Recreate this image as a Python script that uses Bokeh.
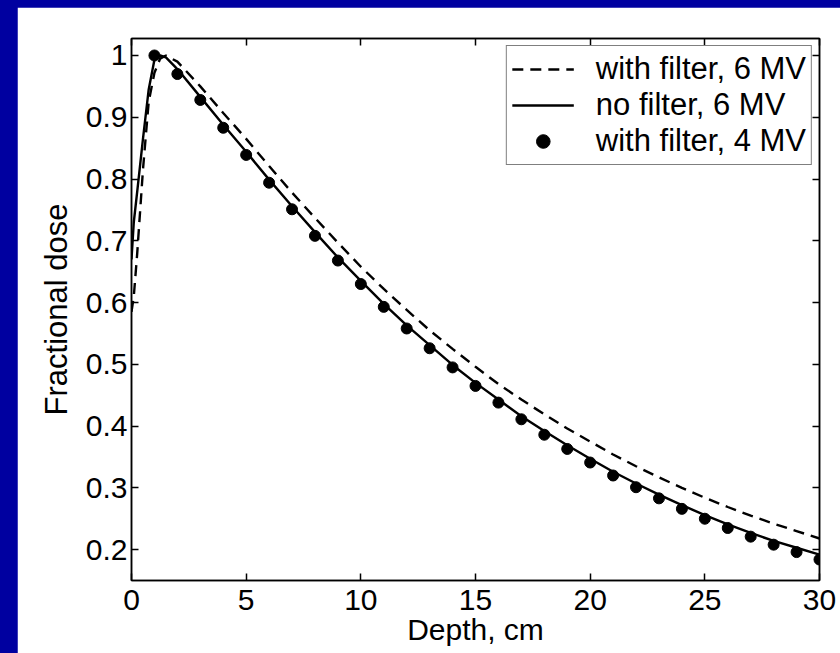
from bokeh.plotting import figure
from bokeh.models import (Range1d, LinearAxis, FixedTicker, Legend, LegendItem,
                          CustomLabelingPolicy)
from bokeh.layouts import column
from bokeh.embed import file_html
from bokeh.resources import INLINE

# ---- data ----
depth_nofilter_6mv = [0, 0.1, 0.25, 0.5, 0.75, 1.0, 1.25, 1.5, 2, 3, 4, 5, 6, 7, 8, 9, 10,
                      11, 12, 13, 14, 15, 16, 17, 18, 19, 20, 21, 22, 23, 24, 25,
                      26, 27, 28, 29, 30]
dose_nofilter_6mv = [0.67, 0.73, 0.78, 0.865, 0.945, 0.993, 1.0, 0.997, 0.978, 0.933,
                     0.888, 0.844, 0.799, 0.756, 0.714, 0.673, 0.635, 0.598, 0.563,
                     0.531, 0.499, 0.470, 0.443, 0.416, 0.392, 0.369, 0.347, 0.326,
                     0.307, 0.289, 0.272, 0.256, 0.241, 0.227, 0.214, 0.203, 0.192]

depth_filter_6mv = [0, 0.1, 0.25, 0.5, 0.75, 1.0, 1.25, 1.5, 2, 3, 4, 5, 6, 7, 8, 9, 10,
                    11, 12, 13, 14, 15, 16, 17, 18, 19, 20, 21, 22, 23, 24, 25,
                    26, 27, 28, 29, 30]
dose_filter_6mv = [0.585, 0.61, 0.68, 0.815, 0.925, 0.972, 0.995, 1.0, 0.99, 0.95,
                   0.907, 0.865, 0.821, 0.778, 0.737, 0.697, 0.658, 0.622, 0.588,
                   0.555, 0.525, 0.496, 0.468, 0.443, 0.419, 0.396, 0.375, 0.354,
                   0.335, 0.317, 0.300, 0.284, 0.269, 0.255, 0.242, 0.230, 0.218]

depth_filter_4mv = list(range(1, 31))
dose_filter_4mv = [1.0, 0.97, 0.928, 0.883, 0.839, 0.794, 0.751, 0.708, 0.668, 0.630,
                   0.593, 0.558, 0.526, 0.495, 0.465, 0.438, 0.411, 0.386, 0.363,
                   0.341, 0.320, 0.301, 0.283, 0.266, 0.250, 0.235, 0.221, 0.208,
                   0.196, 0.184]

x_ticks = [0, 5, 10, 15, 20, 25, 30]
y_ticks = [0.2, 0.3, 0.4, 0.5, 0.6, 0.7, 0.8, 0.9, 1.0]

legend_labels = ["with filter, 6 MV", "no filter, 6 MV", "with filter, 4 MV"]

FONT = "Liberation Sans"
FS = "30px"

p = figure(width=823, height=646, output_backend="svg", toolbar_location=None,
           x_range=Range1d(0, 30), y_range=Range1d(0.15, 1.0275),
           min_border_left=114, min_border_right=21, min_border_top=31,
           min_border_bottom=73)
p.margin = (7, 0, 0, 17)
p.background_fill_color = "white"
p.border_fill_color = "white"
p.outline_line_color = "black"
p.outline_line_width = 1.5
p.grid.visible = False

def style_axis(ax, ticks):
    ax.ticker = FixedTicker(ticks=ticks)
    ax.major_tick_in = 7
    ax.major_tick_out = 0
    ax.minor_tick_line_color = None
    ax.major_tick_line_color = "black"
    ax.major_tick_line_width = 1.5
    ax.axis_line_color = "black"
    ax.axis_line_width = 1.5
    ax.major_label_text_font = FONT
    ax.major_label_text_font_size = FS
    ax.major_label_text_color = "black"
    ax.axis_label_text_font = FONT
    ax.axis_label_text_font_size = FS
    ax.axis_label_text_font_style = "normal"
    ax.axis_label_text_color = "black"

xa = p.xaxis[0]
ya = p.yaxis[0]
style_axis(xa, x_ticks)
style_axis(ya, y_ticks)
xa.axis_label = "Depth, cm"
ya.axis_label = "Fractional dose"
ya.axis_label_text_font_size = "31px"
xa.major_label_standoff = 9
xa.axis_label_standoff = 0
ya.major_label_standoff = 4
ya.axis_label_standoff = 9
ya.major_label_overrides = {1.0: "1"}

# box axes on top and right: ticks only
no_labels = CustomLabelingPolicy(code="return new Set()")
top_ax = LinearAxis()
right_ax = LinearAxis()
for ax, t in ((top_ax, x_ticks), (right_ax, y_ticks)):
    style_axis(ax, t)
    ax.major_label_policy = no_labels
    ax.major_label_text_font_size = "0px"
    ax.major_label_standoff = 0
p.add_layout(top_ax, "above")
p.add_layout(right_ax, "right")

r_dash = p.line(depth_filter_6mv, dose_filter_6mv, line_color="black", line_width=2.4,
                line_dash="11 7")
r_solid = p.line(depth_nofilter_6mv, dose_nofilter_6mv, line_color="black", line_width=2.4)
r_dots = p.scatter(depth_filter_4mv, dose_filter_4mv, size=11, fill_color="black",
                   line_color="black")

legend = Legend(items=[LegendItem(label=legend_labels[0], renderers=[r_dash]),
                       LegendItem(label=legend_labels[1], renderers=[r_solid]),
                       LegendItem(label=legend_labels[2], renderers=[r_dots])],
                location="top_right")
legend.label_text_font = FONT
legend.label_text_font_size = "31px"
legend.label_text_color = "black"
legend.border_line_color = "black"
legend.border_line_width = 1.5
legend.background_fill_alpha = 1.0
legend.padding = 5
legend.spacing = 0
legend.margin = 7
legend.glyph_width = 62
legend.glyph_height = 34
legend.label_height = 34
legend.label_standoff = 22
p.add_layout(legend)

layout = column(p, width=840, height=653, styles={"background-color": "#0000A0"})

open("out.html", "w").write(file_html(layout, INLINE))
